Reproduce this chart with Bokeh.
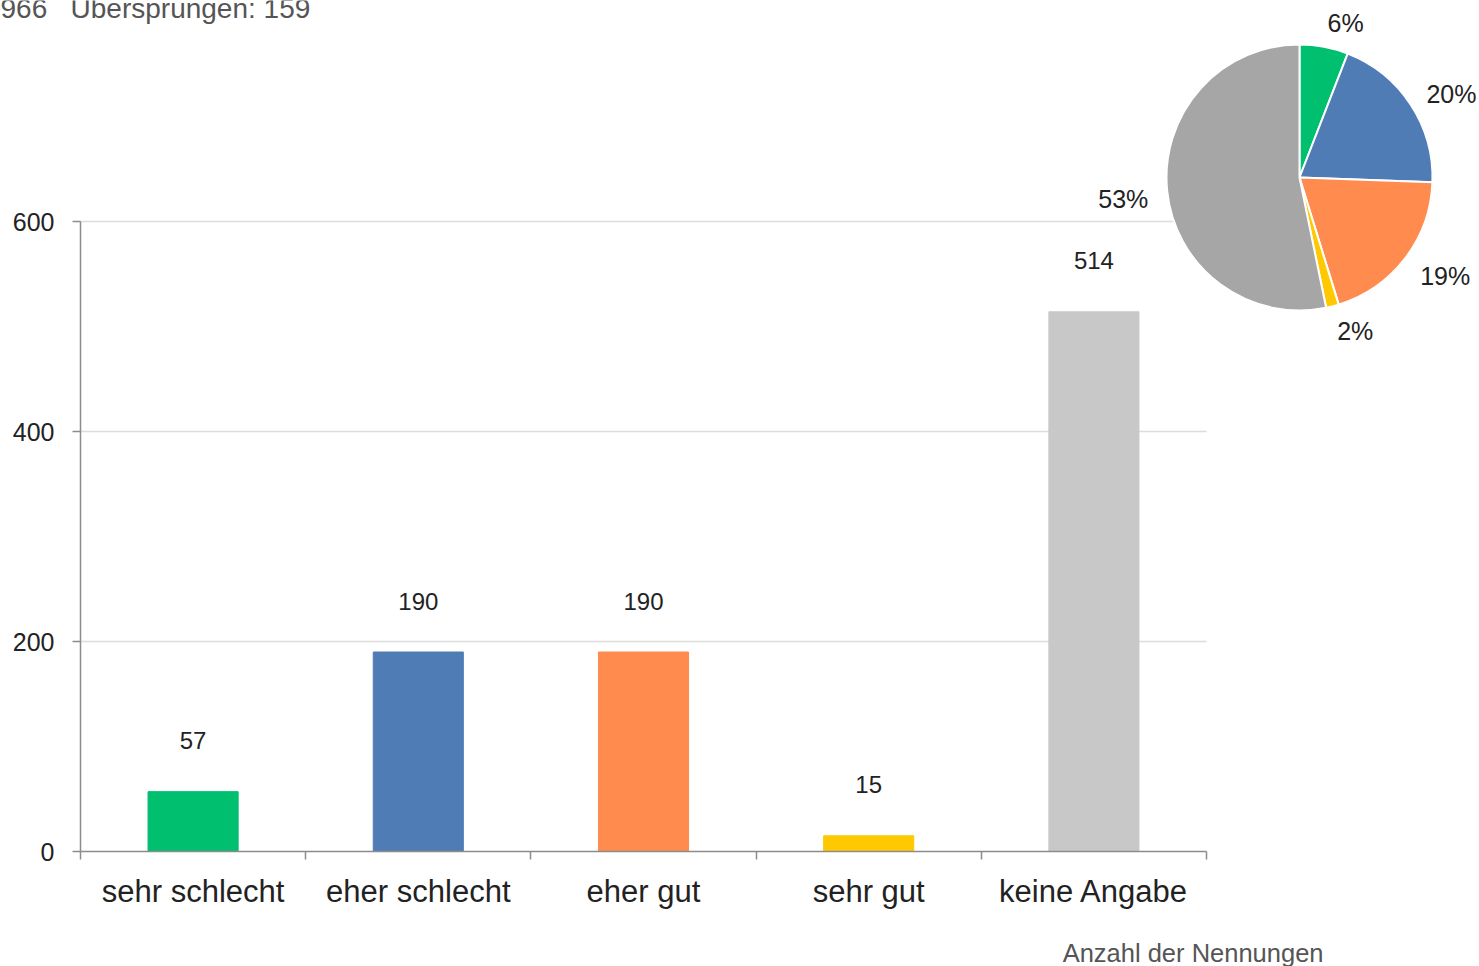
import math
from bokeh.plotting import figure
from bokeh.models import FixedTicker, Range1d, Label, ColumnDataSource
from bokeh.embed import file_html
from bokeh.resources import INLINE
from bokeh.core.properties import value

# ---- data ----
categories = ["sehr schlecht", "eher schlecht", "eher gut", "sehr gut", "keine Angabe"]
counts = [57, 190, 190, 15, 514]
bar_colors = ["#00BF6F", "#507CB6", "#FF8B4F", "#FFC800", "#C8C8C8"]
pie_colors = ["#00BF6F", "#507CB6", "#FF8B4F", "#FFC800", "#A6A6A6"]
pie_labels = ["6%", "20%", "19%", "2%", "53%"]
y_ticks = [0, 200, 400, 600]
answered = 966
skipped = 159
x_axis_title = "Anzahl der Nennungen"

FONT = "Liberation Sans"
TXT = "#222222"
AXC = "#8C8C8C"

W, H = 1479, 966
ax_x, ax_y = 80, 851          # pixel position of the axes origin
cat_px = 225.2                 # pixels per category
px_per_unit = 1.05             # pixels per count

p = figure(width=W, height=H, output_backend="svg", toolbar_location=None,
           x_range=Range1d(-ax_x / cat_px, (W - ax_x) / cat_px),
           y_range=Range1d(-(H - ax_y) / px_per_unit, ax_y / px_per_unit),
           min_border=0, min_border_left=0, min_border_right=0,
           min_border_top=0, min_border_bottom=0)
p.outline_line_color = None
p.xgrid.visible = False
p.ygrid.visible = False

n = len(categories)
xs = [i + 0.5 for i in range(n)]

# grid lines (only across the bar area)
gt = y_ticks[1:]
p.segment(x0=[0] * len(gt), x1=[n] * len(gt), y0=gt, y1=gt,
          line_color="#DCDCDC", line_width=1.5)

# bars
src = ColumnDataSource(dict(x=xs, top=counts, color=bar_colors,
                            lab=[str(c) for c in counts]))
p.vbar(x="x", top="top", bottom=0, width=0.4, color="color", source=src)
p.text(x="x", y="top", text="lab", source=src, y_offset=-51,
       text_align="center", text_baseline="middle", text_font=value(FONT),
       text_font_size="24px", text_color=TXT)

# axes (fixed at the data origin)
xa = p.xaxis[0]
xa.fixed_location = 0
xa.ticker = FixedTicker(ticks=xs, minor_ticks=list(range(n + 1)))
xa.major_label_overrides = {x: c for x, c in zip(xs, categories)}
xa.bounds = (0, n)
xa.major_tick_out = 0
xa.major_tick_in = 0
xa.minor_tick_out = 8
xa.minor_tick_in = 0
xa.minor_tick_line_color = AXC
xa.minor_tick_line_width = 1.5
xa.axis_line_color = AXC
xa.axis_line_width = 1.5
xa.major_label_text_font = FONT
xa.major_label_text_font_size = "31px"
xa.major_label_text_color = TXT
xa.major_label_standoff = 14

ya = p.yaxis[0]
ya.fixed_location = 0
ya.ticker = FixedTicker(ticks=y_ticks, minor_ticks=[])
ya.bounds = (0, 600)
ya.major_tick_out = 8
ya.major_tick_in = 0
ya.major_tick_line_color = AXC
ya.major_tick_line_width = 1.5
ya.axis_line_color = AXC
ya.axis_line_width = 1.5
ya.major_label_text_font = FONT
ya.major_label_text_font_size = "25px"
ya.major_label_text_color = TXT
ya.major_label_standoff = 18

# pie
total = sum(counts)
cx = (1299 - ax_x) / cat_px
cy = (ax_y - 177) / px_per_unit
R = 133
LR = 152
starts, ends, lx, ly, al = [], [], [], [], []
cum = 0.0
for c in counts:
    f = c / total
    a0 = math.pi / 2 - cum * 2 * math.pi
    a1 = math.pi / 2 - (cum + f) * 2 * math.pi
    starts.append(a0)
    ends.append(a1)
    mid = (a0 + a1) / 2
    s = math.sin(mid)
    lx.append(LR * math.cos(mid))
    ly.append(-LR * s + 6 - 11 * max(s, 0))
    al.append("left" if math.cos(mid) >= 0 else "right")
    cum += f
psrc = ColumnDataSource(dict(s=starts, e=ends, color=pie_colors,
                             lx=lx, ly=ly, lab=pie_labels, al=al))
p.wedge(x=cx, y=cy, radius=R, radius_units="screen", start_angle="s",
        end_angle="e", direction="clock", fill_color="color",
        line_color="white", line_width=2, source=psrc)
p.text(x=cx, y=cy, x_offset="lx", y_offset="ly", text="lab", source=psrc,
       text_align="al", text_baseline="middle", text_font=value(FONT),
       text_font_size="25px", text_color=TXT)

# header / footer texts
NB = "\u00a0"
p.add_layout(Label(x=-ax_x / cat_px, y=(ax_y - 8) / px_per_unit,
                   text=f"{answered}{NB * 3}Übersprungen: {skipped}",
                   text_baseline="middle", text_align="left", text_font=FONT,
                   text_font_size="28px", text_color="#555555"))
p.add_layout(Label(x=(1323 - ax_x) / cat_px, y=(ax_y - 952) / px_per_unit,
                   text=x_axis_title, text_baseline="middle", text_align="right",
                   text_font=FONT, text_font_size="25.5px", text_color="#555555"))

open("out.html", "w").write(file_html(p, INLINE))
